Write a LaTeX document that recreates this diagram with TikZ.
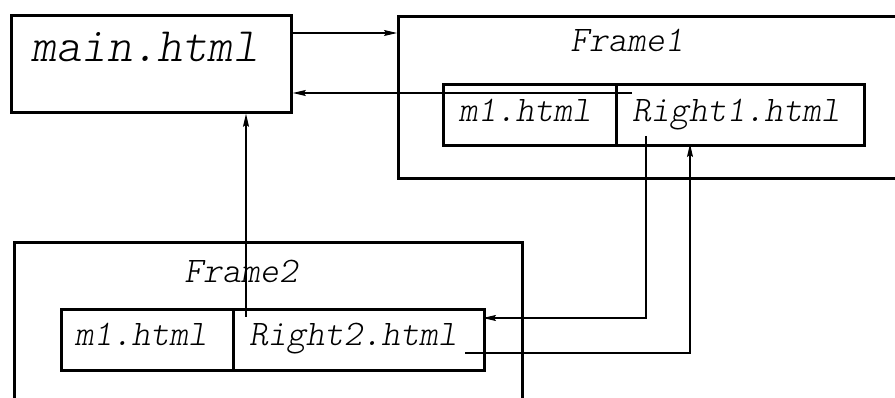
\documentclass[tikz,border=0pt]{standalone}
\usepackage{fontspec}
\setmonofont{Latin Modern Mono Light}
\usetikzlibrary{arrows.meta}
\begin{document}
\begin{tikzpicture}[x=1pt, y=-1pt,
	box/.style={draw, line width=2.8pt, inner sep=0pt, anchor=north west},
	lbl/.style={font=\fontsize{36}{40}\selectfont\ttfamily\slshape, inner sep=0pt, anchor=base},
	arr/.style={line width=1.1pt, -{Stealth[length=13pt, width=6pt, inset=2pt]}}]
	\useasboundingbox (0,0) rectangle (895,398);
	\clip (0,0) rectangle (895,398);
	\node (main) at ( 10,  14)	[box, minimum width=280pt, minimum height=97pt]	{};
	\node (F1)   at (397,  15)	[box, minimum width=508pt, minimum height=162pt]	{};
	\node (F2)   at ( 13, 241)	[box, minimum width=508pt, minimum height=170pt]	{};
	\node (M1)   at (442,  83)	[box, minimum width=173pt, minimum height=61pt]	{};
	\node (R1)   at (615,  83)	[box, minimum width=248pt, minimum height=61pt]	{};
	\node (M2)   at ( 60, 308)	[box, minimum width=172pt, minimum height=61pt]	{};
	\node (R2)   at (232, 308)	[box, minimum width=251pt, minimum height=61pt]	{};
	\node (mainlbl) at (145,  62)	[lbl, font=\fontsize{48}{52}\selectfont\ttfamily\slshape]	{main.html};
	\node (F1lbl)   at (627,  52)	[lbl]	{Frame1};
	\node (F2lbl)   at (241, 283)	[lbl]	{Frame2};
	\node (M1lbl)   at (525, 122)	[lbl]	{m1.html};
	\node (R1lbl)   at (736, 122)	[lbl]	{Right1.html};
	\node (M2lbl)   at (141, 345)	[lbl]	{m1.html};
	\node (R2lbl)   at (353, 345)	[lbl]	{Right2.html};
	\coordinate (r1a)   at (632,  93);
	\coordinate (r1b)   at (646, 136);
	\coordinate (r1in)  at (690, 144);
	\coordinate (r2in)  at (483, 318);
	\coordinate (r2out) at (465, 353);
	\coordinate (r2up)  at (246, 317);
	\draw[arr] ([yshift=-19pt]main.north east) -- ([yshift=-19pt]main.north east -| F1.west);
	\draw[arr] (r1a) -- (r1a -| main.east);
	\draw[arr] (r1b) |- (r2in);
	\draw[arr] (r2out) -| (r1in);
	\draw[arr] (r2up) -- (r2up |- main.south);
\end{tikzpicture}
\end{document}
